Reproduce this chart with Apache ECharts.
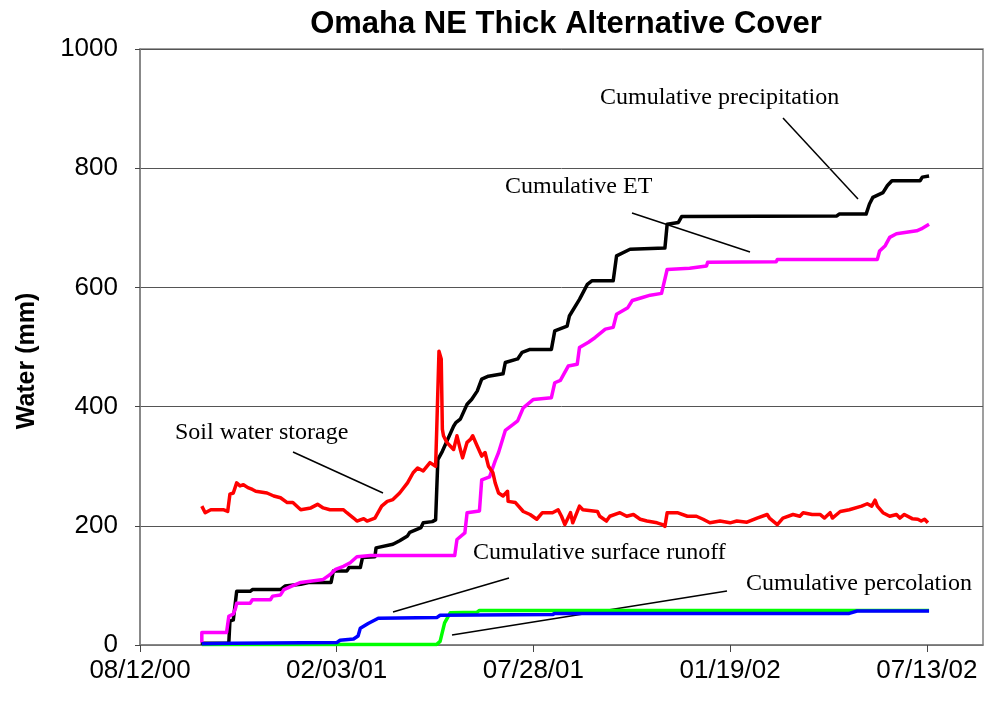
<!DOCTYPE html>
<html>
<head>
<meta charset="utf-8">
<title>Omaha NE Thick Alternative Cover</title>
<script src="https://cdn.jsdelivr.net/npm/echarts@6/dist/echarts.min.js"></script>
<style>
  html, body { margin: 0; padding: 0; background: #fff; }
  #chart { width: 986px; height: 704px; }
</style>
</head>
<body>
<div id="chart"></div>
<script>
// x values are days since 08/12/00, y values are mm of water
const START = Date.UTC(2000, 7, 12)
const xTicks = [0, 175, 350, 525, 700]

const precipDay = [54, 79, 80, 83, 86, 98, 100, 125, 129, 143, 150, 170, 172, 184, 186, 196, 198, 209, 210, 225,
  231, 238, 240, 250, 252, 260, 263, 265, 269, 279, 281, 285, 291, 295, 300, 304, 310, 323, 325, 336,
  340, 347, 366, 369, 380, 382, 391, 398, 402, 421, 424, 436, 467, 469, 479, 482, 620, 622, 646, 649,
  652, 661, 665, 669, 694, 696, 702]
const precipMm = [3, 3, 40, 42, 90, 90, 93, 93, 99, 102, 105, 105, 124, 124, 130, 130, 147, 148, 163, 169,
  175, 183, 189, 197, 205, 207, 210, 311, 325, 367, 373, 379, 404, 412, 426, 446, 451, 455, 474, 480,
  491, 496, 496, 527, 535, 552, 580, 605, 611, 611, 653, 664, 666, 706, 709, 719, 720, 723, 723, 740,
  751, 759, 771, 779, 779, 785, 787]

const etDay = [55, 55, 77, 79, 83, 85, 86, 98, 100, 116, 118, 125, 128, 134, 143, 163, 169, 174, 181, 187,
  193, 205, 280, 282, 289, 291, 302, 304, 311, 316, 319, 325, 332, 336, 341, 350, 366, 369, 374, 381,
  389, 391, 399, 405, 414, 421, 424, 434, 438, 447, 454, 464, 469, 489, 504, 505, 566, 567, 656, 658,
  663, 667, 673, 691, 695, 702]
const etMm = [4, 21, 21, 48, 52, 62, 70, 70, 76, 76, 82, 84, 93, 98, 105, 110, 118, 127, 132, 138,
  148, 150, 150, 177, 188, 222, 225, 277, 282, 309, 323, 360, 370, 376, 398, 412, 415, 440, 444, 468,
  471, 499, 508, 516, 530, 533, 555, 566, 578, 583, 587, 590, 630, 632, 636, 642, 643, 647, 647, 661,
  670, 684, 690, 695, 698, 706]

const soilDay = [55, 58, 63, 74, 78, 80, 83, 86, 89, 92, 96, 100, 103, 113, 119, 125, 131, 136, 143, 152,
  158, 163, 169, 181, 184, 190, 193, 199, 202, 209, 215, 220, 225, 231, 238, 243, 247, 252, 258, 263,
  264, 266, 268, 269, 270, 273, 276, 279, 282, 285, 287, 291, 294, 296, 300, 304, 307, 310, 314, 316,
  319, 323, 327, 327.5, 334, 341, 347, 353, 358, 367, 372, 375, 378, 383, 385, 391, 394, 407, 409, 415,
  418, 427, 433, 439, 445, 451, 460, 465, 467, 469, 478, 487, 495, 501, 507, 516, 525, 531, 540, 549,
  558, 560, 567, 572, 581, 587, 590, 598, 605, 609, 614, 616, 623, 631, 642, 647, 651, 654, 656, 661,
  667, 673, 676, 680, 687, 692, 695, 698, 701]
const soilMm = [233, 222, 227, 227, 224, 253, 255, 272, 267, 269, 264, 261, 258, 255, 250, 247, 239, 239, 227, 230,
  236, 230, 227, 227, 222, 213, 208, 212, 208, 213, 233, 241, 244, 255, 272, 289, 297, 292, 306, 300,
  362, 493, 480, 362, 351, 340, 334, 328, 351, 328, 314, 340, 345, 351, 334, 317, 323, 300, 289, 272,
  255, 250, 258, 241, 239, 224, 219, 211, 222, 222, 227, 216, 202, 222, 205, 233, 227, 224, 216, 208,
  216, 222, 216, 219, 211, 208, 205, 202, 199, 222, 222, 216, 216, 211, 205, 208, 205, 208, 206, 213,
  219, 213, 202, 213, 219, 216, 222, 219, 219, 213, 222, 213, 224, 227, 233, 237, 233, 243, 233, 222,
  216, 219, 213, 219, 212, 211, 208, 211, 205]

const runoffDay = [55, 83, 175, 178, 190, 194, 196, 203, 212, 264, 267, 367, 369, 631, 638, 702]
const runoffMm = [2, 3, 4, 8, 10, 15, 28, 36, 45, 46, 50, 51, 53, 53, 57, 57]

const percDay = [55, 264, 267, 271, 276, 300, 302, 702]
const percMm = [1, 1, 6, 37, 54, 55, 58, 58]

const zip = (xs, ys) => xs.map((x, i) => [x, ys[i]])

const pad = n => (n < 10 ? '0' : '') + n
const dayLabel = d => {
  if (xTicks.indexOf(d) < 0) return ''
  const dt = new Date(START + d * 86400000)
  return pad(dt.getUTCMonth() + 1) + '/' + pad(dt.getUTCDate()) + '/' + pad(dt.getUTCFullYear() % 100)
}

const SANS = 'Liberation Sans, Arial, sans-serif'
const SERIF = 'Liberation Serif, Times New Roman, serif'

const line = (name, data, color) => ({
  name,
  type: 'line',
  data,
  symbol: 'none',
  lineStyle: { color, width: 3.5, join: 'round' },
  itemStyle: { color },
  emphasis: { disabled: true }
})

// callout texts and their leader lines, in page pixels
const notes = [
  { text: 'Cumulative precipitation', x: 600, y: 99, from: [783, 118], to: [858, 199] },
  { text: 'Cumulative ET', x: 505, y: 188, from: [632, 213], to: [750, 252] },
  { text: 'Soil water storage', x: 175, y: 434, from: [293, 452], to: [383, 493] },
  { text: 'Cumulative surface runoff', x: 473, y: 554, from: [509, 578], to: [393, 612] },
  { text: 'Cumulative percolation', x: 746, y: 585, from: [727, 591], to: [452, 635] }
]

const graphic = []
notes.forEach(n => {
  graphic.push({
    type: 'text',
    left: n.x,
    top: n.y - 13,
    style: { text: n.text, font: '24px ' + SERIF, fill: '#000' }
  })
  graphic.push({
    type: 'line',
    shape: { x1: n.from[0], y1: n.from[1], x2: n.to[0], y2: n.to[1] },
    style: { stroke: '#000', lineWidth: 1.5 }
  })
})

const chart = echarts.init(document.getElementById('chart'))
chart.setOption({
  animation: false,
  backgroundColor: '#fff',
  title: {
    text: 'Omaha NE Thick Alternative Cover',
    left: 561,
    textAlign: 'center',
    top: 4,
    textStyle: { fontFamily: SANS, fontWeight: 'bold', fontSize: 31, color: '#000' }
  },
  grid: {
    left: 140,
    right: 3,
    top: 49,
    bottom: 59,
    show: true,
    borderColor: '#808080',
    borderWidth: 1.5
  },
  xAxis: {
    type: 'value',
    min: 0,
    max: 750,
    interval: 175,
    axisLine: { show: true, lineStyle: { color: '#808080', width: 1.5 } },
    axisTick: { show: true, length: 7, lineStyle: { color: '#444' } },
    axisLabel: {
      showMaxLabel: false,
      margin: 13,
      fontFamily: SANS,
      fontSize: 26,
      color: '#000',
      formatter: dayLabel
    },
    splitLine: { show: false }
  },
  yAxis: {
    type: 'value',
    min: 0,
    max: 1000,
    interval: 200,
    name: 'Water (mm)',
    nameLocation: 'middle',
    nameGap: 100,
    nameTextStyle: {
      fontFamily: SANS,
      fontWeight: 'bold',
      fontSize: 25,
      color: '#000',
      padding: [0, 28, 0, 0]
    },
    axisLine: { show: true, lineStyle: { color: '#808080', width: 1.5 } },
    axisTick: { show: true, length: 5, lineStyle: { color: '#444' } },
    axisLabel: {
      margin: 22,
      fontFamily: SANS,
      fontSize: 26,
      color: '#000',
      formatter: v => String(v)
    },
    splitLine: { show: true, lineStyle: { color: '#555', width: 1 } }
  },
  series: [
    line('Cumulative precipitation', zip(precipDay, precipMm), '#000000'),
    line('Cumulative ET', zip(etDay, etMm), '#ff00ff'),
    line('Soil water storage', zip(soilDay, soilMm), '#ff0000'),
    line('Cumulative percolation', zip(percDay, percMm), '#00ff00'),
    line('Cumulative surface runoff', zip(runoffDay, runoffMm), '#0000ff')
  ],
  graphic
})
</script>
</body>
</html>
